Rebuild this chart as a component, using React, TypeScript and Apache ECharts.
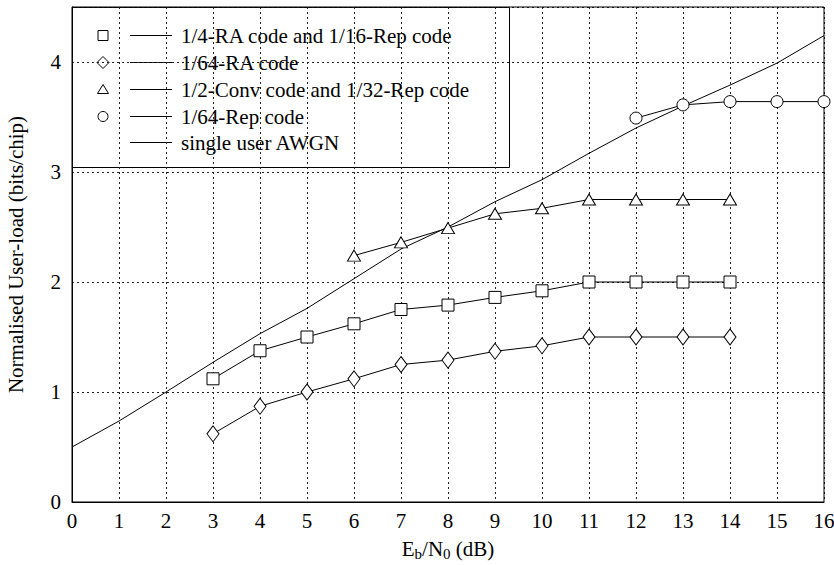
import React, { useEffect, useRef } from "react";
import * as echarts from "echarts";

// ---- data ----
const seriesNames = [
  "1/4-RA code and 1/16-Rep code",
  "1/64-RA code",
  "1/2-Conv code and 1/32-Rep code",
  "1/64-Rep code",
  "single user AWGN",
];

const raRepX = [3, 4, 5, 6, 7, 8, 9, 10, 11, 12, 13, 14];
const raRepY = [1.12, 1.375, 1.5, 1.62, 1.75, 1.79, 1.86, 1.92, 2.0, 2.0, 2.0, 2.0];

const ra64X = [3, 4, 5, 6, 7, 8, 9, 10, 11, 12, 13, 14];
const ra64Y = [0.62, 0.87, 1.0, 1.12, 1.25, 1.29, 1.37, 1.42, 1.5, 1.5, 1.5, 1.5];

const convX = [6, 7, 8, 9, 10, 11, 12, 13, 14];
const convY = [2.24, 2.36, 2.49, 2.62, 2.67, 2.75, 2.75, 2.75, 2.75];

const rep64X = [12, 13, 14, 15, 16];
const rep64Y = [3.49, 3.61, 3.64, 3.64, 3.64];

const awgnX = [0, 1, 2, 3, 4, 5, 6, 7, 8, 9, 10, 11, 12, 13, 14, 15, 16];
const awgnY = [0.5, 0.736, 1.0, 1.27, 1.53, 1.76, 2.03, 2.3, 2.5, 2.73, 2.93, 3.17, 3.4, 3.6, 3.79, 3.99, 4.24];

const xTicks = [0, 1, 2, 3, 4, 5, 6, 7, 8, 9, 10, 11, 12, 13, 14, 15, 16];
const yTicks = [0, 1, 2, 3, 4];

const zip = (xs: number[], ys: number[]) => xs.map((x, i) => [x, ys[i]]);

const FONT = "'Liberation Serif', 'Times New Roman', serif";

export default function App() {
  const ref = useRef<HTMLDivElement>(null);

  useEffect(() => {
    if (!ref.current) return;
    const chart = echarts.init(ref.current, undefined, { renderer: "svg" });

    const markerStyle = { color: "#fff", borderColor: "#000", borderWidth: 1 };
    const lineStyle = { color: "#000", width: 1 };

    const mk = (name: string, data: number[][], symbol: string, size: any) => ({
      name,
      type: "line",
      data,
      symbol,
      symbolSize: size,
      showSymbol: symbol !== "none",
      lineStyle,
      itemStyle: markerStyle,
      z: 3,
    });

    // legend drawn as graphic
    const legX = 72.5, legY = 7.5, legW = 437, legH = 160;
    const rowY = [35.5, 62.5, 89.5, 116.5, 142.5];
    const mx = 103;
    const legendChildren: any[] = [
      {
        type: "rect",
        shape: { x: legX, y: legY, width: legW, height: legH },
        style: { fill: "#fff", stroke: "#000", lineWidth: 1 },
      },
    ];
    seriesNames.forEach((name, i) => {
      const y = rowY[i];
      legendChildren.push({
        type: "line",
        shape: { x1: 130, y1: y, x2: 172, y2: y },
        style: { stroke: "#000", lineWidth: 1 },
      });
      legendChildren.push({
        type: "text",
        x: 181,
        y: y + 0.5,
        style: { text: name, font: `21px ${FONT}`, fill: "#000", verticalAlign: "middle" },
      });
    });
    const ms = { fill: "#fff", stroke: "#000", lineWidth: 1 };
    legendChildren.push({ type: "rect", shape: { x: mx - 5, y: rowY[0] - 5, width: 10, height: 10 }, style: ms });
    legendChildren.push({
      type: "polygon",
      shape: { points: [[mx, rowY[1] - 6], [mx + 6, rowY[1]], [mx, rowY[1] + 6], [mx - 6, rowY[1]]] },
      style: ms,
    });
    legendChildren.push({
      type: "polygon",
      shape: { points: [[mx, rowY[2] - 5], [mx + 5.5, rowY[2] + 4], [mx - 5.5, rowY[2] + 4]] },
      style: ms,
    });
    legendChildren.push({ type: "circle", shape: { cx: mx, cy: rowY[3], r: 5 }, style: ms });

    chart.setOption({
      animation: false,
      backgroundColor: "#fff",
      grid: { left: 72, right: 10, top: 7, bottom: 63, show: false, containLabel: false, outerBoundsMode: "none" },
      xAxis: {
        type: "value",
        min: 0,
        max: 16,
        interval: 1,
        name: "{t|E}{s|b}{t|/N}{s|0}{t| (dB)}",
        nameLocation: "middle",
        nameGap: 33,
        nameTextStyle: {
          rich: {
            t: { fontFamily: FONT, fontSize: 21, color: "#000", lineHeight: 26 },
            s: { fontFamily: FONT, fontSize: 15, color: "#000", lineHeight: 26, padding: [11, 0, 0, 0] },
          },
        },
        axisLine: { show: true, lineStyle: { color: "#000", width: 1 } },
        axisTick: { show: false },
        axisLabel: {
          color: "#000",
          fontFamily: FONT,
          fontSize: 21,
          margin: 8,
          formatter: (v: number) => (xTicks.includes(v) ? String(v) : ""),
        },
        splitLine: { show: true, lineStyle: { color: "#222", type: [2, 3], width: 1 } },
      },
      yAxis: {
        type: "value",
        min: 0,
        max: 4.5,
        interval: 1,
        name: "Normalised User-load (bits/chip)",
        nameLocation: "middle",
        nameRotate: 90,
        nameGap: 46,
        nameTextStyle: { fontFamily: FONT, fontSize: 21, color: "#000" },
        axisLine: { show: true, lineStyle: { color: "#000", width: 1 } },
        axisTick: { show: false },
        axisLabel: {
          color: "#000",
          fontFamily: FONT,
          fontSize: 21,
          margin: 11,
          showMaxLabel: false,
          formatter: (v: number) => (yTicks.includes(v) ? String(v) : ""),
        },
        splitLine: { show: true, lineStyle: { color: "#222", type: [2, 3], width: 1 } },
      },
      graphic: [
        {
          type: "rect",
          shape: { x: 72, y: 7, width: 752, height: 495 },
          style: { fill: "none", stroke: "#000", lineWidth: 1 },
          z: 1,
          silent: true,
        },
        { type: "group", children: legendChildren, z: 100 },
      ],
      series: [
        mk(seriesNames[0], zip(raRepX, raRepY), "rect", 12),
        mk(seriesNames[1], zip(ra64X, ra64Y), "diamond", [12, 16]),
        mk(seriesNames[2], zip(convX, convY), "triangle", [13, 11]),
        mk(seriesNames[3], zip(rep64X, rep64Y), "circle", 12),
        { ...mk(seriesNames[4], zip(awgnX, awgnY), "none", 0), z: 2 },
      ],
    });

    return () => chart.dispose();
  }, []);

  return (
    <div
      ref={ref}
      style={{ position: "absolute", left: 0, top: 0, width: 834, height: 565, background: "#fff" }}
    />
  );
}
